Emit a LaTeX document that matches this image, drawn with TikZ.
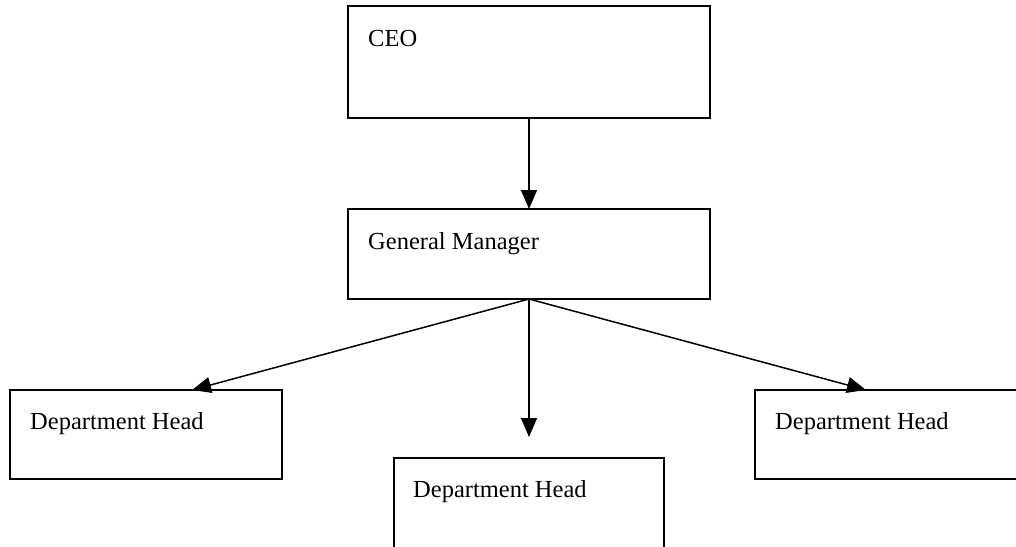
\documentclass[tikz,border=0pt]{standalone}
\usepackage{fontspec}
\setmainfont{Liberation Serif}
\usetikzlibrary{arrows.meta}
\begin{document}
\begin{tikzpicture}[x=1pt,y=-1pt,
  box/.style={draw=black,line width=1.5pt,rectangle,inner sep=0pt,outer sep=0pt},
  lbl/.style={anchor=base west,inner sep=0pt,font=\fontsize{24.5pt}{29pt}\selectfont},
  conn/.style={line width=1.5pt,-{Triangle[length=19pt,width=16pt]}}]
\clip (0,0) rectangle (1016,546);
\fill[white] (0,0) rectangle (1016,546);
\node[box,minimum width=362pt,minimum height=112pt] (ceo) at (529,62) {};
\node[box,minimum width=362pt,minimum height=90pt] (gm) at (529,254) {};
\node[box,minimum width=272pt,minimum height=89pt] (dh1) at (146,434.5) {};
\node[box,minimum width=270pt,minimum height=90pt] (dh2) at (529,503) {};
\node[box,minimum width=272pt,minimum height=89pt] (dh3) at (891,434.5) {};
\node[lbl] (tceo) at (368,46) {CEO};
\node[lbl] (tgm) at (368,249) {General Manager};
\node[lbl] (tdh1) at (30,429) {Department Head};
\node[lbl] (tdh2) at (413,497) {Department Head};
\node[lbl] (tdh3) at (775,429) {Department Head};
\coordinate (t1) at (192,390);
\coordinate (t2) at (529,437);
\coordinate (t3) at (866,390);
\draw[conn] (ceo.south) -- (gm.north);
\draw[conn] (gm.south) -- (t1);
\draw[conn] (gm.south) -- (t2);
\draw[conn] (gm.south) -- (t3);
\end{tikzpicture}
\end{document}
